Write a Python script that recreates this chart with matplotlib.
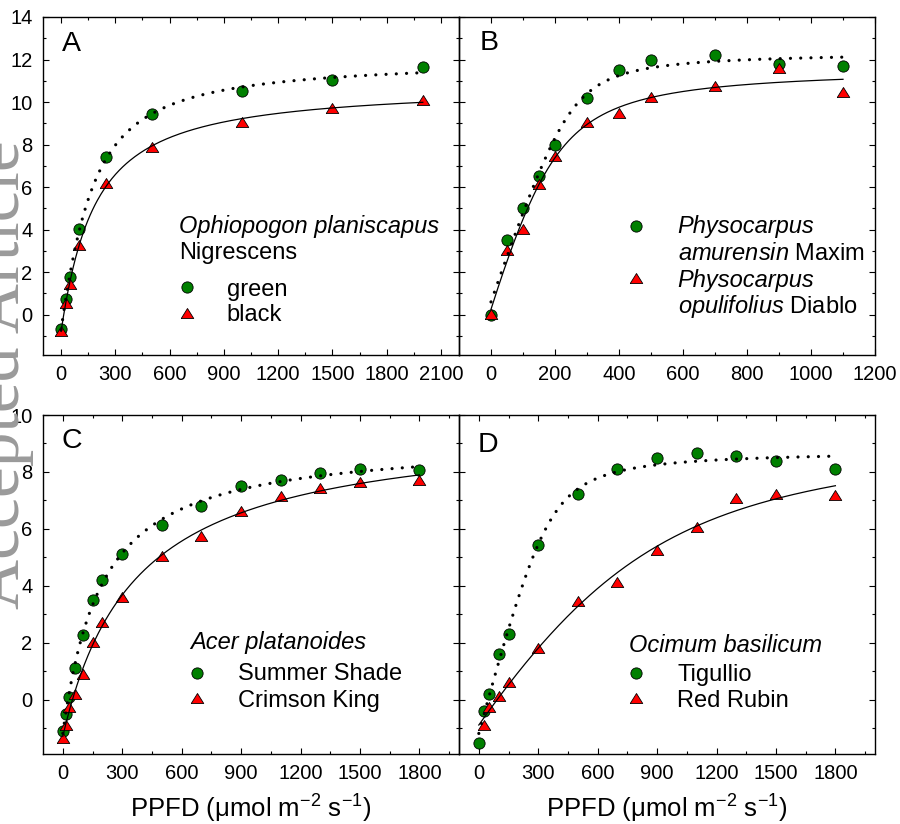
import numpy as np
import matplotlib
matplotlib.use('Agg')
import matplotlib.pyplot as plt
from matplotlib.ticker import MultipleLocator

plt.rcParams['font.family'] = ['Liberation Sans', 'DejaVu Sans']
plt.rcParams['mathtext.fontset'] = 'custom'
plt.rcParams['mathtext.rm'] = 'Liberation Sans'
plt.rcParams['mathtext.it'] = 'Liberation Sans:italic'

# ---------------- data ----------------
A_x = [0, 25, 50, 100, 250, 500, 1000, 1500, 2000]
A_green = [-0.67, 0.74, 1.75, 4.02, 7.43, 9.42, 10.53, 11.03, 11.63]
A_black = [-0.75, 0.55, 1.44, 3.29, 6.18, 7.9, 9.08, 9.7, 10.1]

B_x = [0, 50, 100, 150, 200, 300, 400, 500, 700, 900, 1100]
B_green = [0.0, 3.5, 5.0, 6.5, 8.0, 10.2, 11.5, 12.0, 12.2, 11.8, 11.7]
B_red = [0.05, 3.05, 4.05, 6.15, 7.45, 9.05, 9.5, 10.25, 10.75, 11.6, 10.45]

C_x = [0, 15, 30, 60, 100, 150, 200, 300, 500, 700, 900, 1100, 1300, 1500, 1800]
C_green = [-1.1, -0.49, 0.1, 1.11, 2.29, 3.52, 4.22, 5.11, 6.13, 6.81, 7.51, 7.72, 7.96, 8.12, 8.07]
C_red = [-1.35, -0.88, -0.26, 0.22, 0.92, 2.03, 2.74, 3.61, 5.05, 5.75, 6.63, 7.16, 7.45, 7.65, 7.72]

D_green_x = [0, 25, 50, 100, 150, 300, 500, 700, 900, 1100, 1300, 1500, 1800]
D_green = [-1.5, -0.4, 0.2, 1.61, 2.3, 5.42, 7.22, 8.12, 8.5, 8.66, 8.57, 8.37, 8.12]
D_red_x = [25, 50, 100, 150, 300, 500, 700, 900, 1100, 1300, 1500, 1800]
D_red = [-0.88, -0.26, 0.14, 0.62, 1.82, 3.46, 4.14, 5.26, 6.07, 7.07, 7.24, 7.19]

panel_letters = ['A', 'B', 'C', 'D']
A_header = ['Ophiopogon planiscapus', 'Nigrescens']
A_labels = ['green', 'black']
B_labels = [['Physocarpus', r'$\mathit{amurensin}$ Maxim'],
            ['Physocarpus', r'$\mathit{opulifolius}$ Diablo']]
C_header = 'Acer platanoides'
C_labels = ['Summer Shade', 'Crimson King']
D_header = 'Ocimum basilicum'
D_labels = ['Tigullio', 'Red Rubin']
xlabel = 'PPFD (\u03bcmol m$^{-2}$ s$^{-1}$)'
watermark = 'Accepted Article'

GREEN = '#008000'
RED = '#ff0000'


# ------------- light-response fit (non-rectangular hyperbola) -------------
def _model(x, al, pm, th):
    s = al * x + pm
    return (s - np.sqrt(np.maximum(s * s - 4 * th * al * x * pm, 0))) / (2 * th)


def fit_curve(x, y):
    x = np.asarray(x, float)
    y = np.asarray(y, float)
    al = np.linspace(0.005, 0.3, 60)
    pm = np.linspace(3, 30, 91)
    th = np.linspace(0.02, 0.999, 40)
    for _ in range(4):
        g = _model(x[None, None, None, :], al[:, None, None, None],
                   pm[None, :, None, None], th[None, None, :, None])
        r = g - y
        r = r - r.mean(axis=-1, keepdims=True)
        sse = (r * r).sum(-1)
        i, j, k = np.unravel_index(np.argmin(sse), sse.shape)
        ba, bp, bt = al[i], pm[j], th[k]
        da = (al[1] - al[0]) * 1.5
        dp = (pm[1] - pm[0]) * 1.5
        dt = (th[1] - th[0]) * 1.5
        al = np.linspace(max(ba - da, 1e-4), ba + da, 25)
        pm = np.linspace(max(bp - dp, 0.5), bp + dp, 25)
        th = np.linspace(max(bt - dt, 0.005), min(bt + dt, 0.9995), 25)
    rd = np.mean(_model(x, ba, bp, bt) - y)
    return lambda xx: _model(np.asarray(xx, float), ba, bp, bt) - rd


# ---------------- figure ----------------
fig = plt.figure(figsize=(9.0, 8.24), dpi=100)
W, H = 900.0, 824.0

# watermark (drawn first, behind everything)
fig.text(19 / W, 1 - 375 / H, watermark, rotation=90, rotation_mode='anchor',
         ha='center', va='baseline', fontsize=50, family='Liberation Serif',
         color='#9a9a9a', zorder=0)


def make_ax(l, r, t, b):
    ax = fig.add_axes([l / W, 1 - b / H, (r - l) / W, (b - t) / H])
    ax.patch.set_alpha(0)
    return ax


axA = make_ax(43, 459, 17, 355)
axB = make_ax(459, 875, 17, 355)
axC = make_ax(43, 459, 415, 754)
axD = make_ax(459, 875, 415, 754)

tri = [(-1, -0.8), (1, -0.8), (0, 0.8), (-1, -0.8)]
circ_kw = dict(marker='o', ms=8.1, mfc=GREEN, mec='black', mew=0.6, ls='none', zorder=3)
tri_kw = dict(marker=tri, ms=9.0, mfc=RED, mec='black', mew=0.6, ls='none', zorder=4)


def draw(ax, gx, gy, rx, ry):
    ax.plot(gx, gy, **circ_kw)
    ax.plot(rx, ry, **tri_kw)
    fg = fit_curve(gx, gy)
    fr = fit_curve(rx, ry)
    xg = np.linspace(0, max(gx), 300)
    xr = np.linspace(0, max(rx), 300)
    ax.plot(xg, fg(xg), color='black', lw=2.3, ls=(0, (0.01, 3.2)),
            dash_capstyle='round', zorder=5)
    ax.plot(xr, fr(xr), color='black', lw=0.9, zorder=5)


draw(axA, A_x, A_green, A_x, A_black)
draw(axB, B_x, B_green, B_x, B_red)
draw(axC, C_x, C_green, C_x, C_red)
draw(axD, D_green_x, D_green, D_red_x, D_red)

for ax in (axA, axB):
    ax.set_ylim(-1.9, 14)
for ax in (axC, axD):
    ax.set_ylim(-1.9, 10)
axA.set_xlim(-100, 2200)
axB.set_xlim(-100, 1200)
axC.set_xlim(-100, 2000)
axD.set_xlim(-100, 2000)

for ax, mj, mn in ((axA, 300, 150), (axB, 200, 100), (axC, 300, 150), (axD, 300, 150)):
    ax.xaxis.set_major_locator(MultipleLocator(mj))
    ax.xaxis.set_minor_locator(MultipleLocator(mn))
    ax.yaxis.set_major_locator(MultipleLocator(2))
    ax.yaxis.set_minor_locator(MultipleLocator(1))
    ax.tick_params(which='both', direction='in', top=True, right=True, width=0.8)
    ax.tick_params(which='major', length=4.5, labelsize=14.5, pad=7.5)
    ax.tick_params(which='minor', length=2.5)
    for s in ax.spines.values():
        s.set_linewidth(1.0)
for ax in (axB, axD):
    ax.tick_params(labelleft=False)

# panel letters
for ax, lab, (px, py) in zip((axA, axB, axC, axD), panel_letters,
                             ((0.045, 0.900), (0.049, 0.902), (0.045, 0.902), (0.045, 0.892))):
    ax.text(px, py, lab, transform=ax.transAxes, fontsize=20.5, ha='left', va='baseline')

FS = 17
# legend-style annotations
tA = axA.transAxes
axA.text(0.327, 0.361, A_header[0], transform=tA, fontsize=FS, style='italic', va='baseline')
axA.text(0.327, 0.283, A_header[1], transform=tA, fontsize=FS, va='baseline')
axA.plot([0.345], [0.202], transform=tA, **circ_kw)
axA.plot([0.345], [0.125], transform=tA, **tri_kw)
axA.text(0.4416, 0.175, A_labels[0], transform=tA, fontsize=FS, va='baseline')
axA.text(0.4416, 0.1006, A_labels[1], transform=tA, fontsize=FS, va='baseline')

tB = axB.transAxes
axB.plot([0.4247], [0.3817], transform=tB, **circ_kw)
axB.plot([0.4247], [0.227], transform=tB, **tri_kw)
axB.text(0.5257, 0.360, B_labels[0][0], transform=tB, fontsize=FS, style='italic', va='baseline')
axB.text(0.5257, 0.281, B_labels[0][1], transform=tB, fontsize=FS, va='baseline')
axB.text(0.5257, 0.202, B_labels[1][0], transform=tB, fontsize=FS, style='italic', va='baseline')
axB.text(0.5257, 0.123, B_labels[1][1], transform=tB, fontsize=FS, va='baseline')

tC = axC.transAxes
axC.text(0.353, 0.309, C_header, transform=tC, fontsize=FS, style='italic', va='baseline')
axC.plot([0.371], [0.240], transform=tC, **circ_kw)
axC.plot([0.371], [0.164], transform=tC, **tri_kw)
axC.text(0.4695, 0.218, C_labels[0], transform=tC, fontsize=FS, va='baseline')
axC.text(0.4695, 0.1396, C_labels[1], transform=tC, fontsize=FS, va='baseline')

tD = axD.transAxes
axD.text(0.4087, 0.302, D_header, transform=tD, fontsize=FS, style='italic', va='baseline')
axD.plot([0.4247], [0.240], transform=tD, **circ_kw)
axD.plot([0.4247], [0.164], transform=tD, **tri_kw)
axD.text(0.5248, 0.216, D_labels[0], transform=tD, fontsize=FS, va='baseline')
axD.text(0.5248, 0.1396, D_labels[1], transform=tD, fontsize=FS, va='baseline')

# x labels
for cx in ((43 + 459) / 2, (459 + 875) / 2):
    fig.text(cx / W, 1 - 818 / H, xlabel, fontsize=18.5, ha='center', va='baseline')

fig.savefig('out.png', dpi=100)
